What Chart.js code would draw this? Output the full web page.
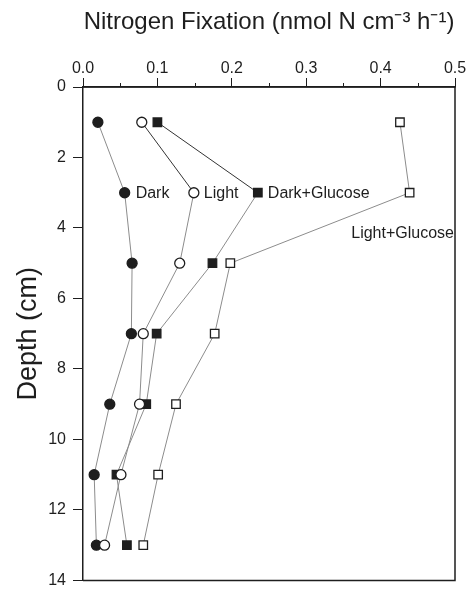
<!DOCTYPE html>
<html>
<head>
<meta charset="utf-8">
<script src="https://cdn.jsdelivr.net/npm/chart.js@4/dist/chart.umd.min.js"></script>
<style>
  body { margin: 0; background: #fff; }
</style>
</head>
<body>
<canvas id="chart_nitrogen_fixation" width="475" height="597"></canvas>
<script>
const depths = [1, 3, 5, 7, 9, 11, 13];
const dark = [0.020, 0.056, 0.066, 0.065, 0.036, 0.015, 0.018];
const light = [0.079, 0.149, 0.130, 0.081, 0.076, 0.051, 0.029];
const darkGlucose = [0.100, 0.235, 0.174, 0.099, 0.085, 0.045, 0.059];
const lightGlucose = [0.426, 0.439, 0.198, 0.177, 0.125, 0.101, 0.081];
const xTicks = [0, 0.1, 0.2, 0.3, 0.4, 0.5];
const yTicks = [0, 2, 4, 6, 8, 10, 12, 14];

const ink = '#1e1e1e';
const lineGray = '#8c8c8c';
const fontFamily = "'Liberation Sans', Arial, Helvetica, sans-serif";

const toPoints = values => values.map((v, i) => ({ x: v, y: depths[i] }));

// first segment of some profiles is drawn darker in the original
const darkFirst = ctx => ctx.p0DataIndex === 0 ? '#333' : lineGray;

const datasets = [
  { label: 'Light', data: toPoints(light), pointStyle: 'circle', pointRadius: 5,
    pointBackgroundColor: '#fff', segment: { borderColor: darkFirst } },
  { label: 'Dark', data: toPoints(dark), pointStyle: 'circle', pointRadius: 5,
    pointBackgroundColor: ink },
  { label: 'Dark+Glucose', data: toPoints(darkGlucose), pointStyle: 'rect', pointRadius: 6,
    pointBackgroundColor: ink, segment: { borderColor: darkFirst } },
  { label: 'Light+Glucose', data: toPoints(lightGlucose), pointStyle: 'rect', pointRadius: 6,
    pointBackgroundColor: '#fff' }
].map(d => Object.assign({
  showLine: true,
  borderColor: lineGray,
  borderWidth: 1,
  pointBorderColor: ink,
  pointBorderWidth: 1.3,
  pointHoverRadius: 5
}, d));

// frame, minor ticks and the in-plot series labels
const decorations = {
  id: 'decorations',
  afterDraw(chart) {
    const { ctx, chartArea: a, scales: { x, y } } = chart;
    ctx.save();
    ctx.strokeStyle = ink;
    ctx.lineWidth = 1.5;
    ctx.beginPath();
    ctx.moveTo(a.left, a.top); ctx.lineTo(a.right, a.top);
    ctx.lineTo(a.right, a.bottom); ctx.lineTo(a.left, a.bottom);
    ctx.stroke();

    ctx.lineWidth = 1;
    ctx.beginPath();
    for (let v = 0.05; v < 0.5; v += 0.1) {
      const px = Math.round(x.getPixelForValue(v)) + 0.5;
      ctx.moveTo(px, a.top); ctx.lineTo(px, a.top - 4);
    }
    ctx.stroke();

    ctx.fillStyle = ink;
    ctx.font = '16px ' + fontFamily;
    ctx.textBaseline = 'middle';
    ctx.textAlign = 'left';
    const at = (values, i) => [x.getPixelForValue(values[i]), y.getPixelForValue(depths[i])];
    let [px, py] = at(dark, 1);
    ctx.fillText('Dark', px + 11, py + 1);
    [px, py] = at(light, 1);
    ctx.fillText('Light', px + 10, py + 1);
    [px, py] = at(darkGlucose, 1);
    ctx.fillText('Dark+Glucose', px + 10, py + 1);
    ctx.textAlign = 'right';
    ctx.fillText('Light+Glucose', a.right - 1, y.getPixelForValue(4.15));
    ctx.restore();
  }
};

new Chart('chart_nitrogen_fixation', {
  type: 'scatter',
  plugins: [decorations],
  data: { datasets },
  options: {
    responsive: false,
    devicePixelRatio: 1,
    animation: false,
    layout: { padding: { top: 0, right: 20, bottom: 10, left: 0 } },
    plugins: { legend: { display: false }, tooltip: { enabled: false } },
    scales: {
      x: {
        type: 'linear',
        position: 'top',
        min: 0,
        max: 0.5,
        afterBuildTicks: s => { s.ticks = xTicks.map(value => ({ value })); },
        afterFit: s => { s.height = 87; },
        ticks: {
          color: ink,
          font: { size: 16, family: fontFamily },
          padding: 0,
          maxRotation: 0,
          callback: v => v.toFixed(1)
        },
        grid: { drawOnChartArea: false, tickLength: 9, color: ink, tickWidth: 1 },
        border: { display: true, color: ink, width: 1.5 },
        title: {
          display: true,
          text: 'Nitrogen Fixation (nmol N cm\u207B\u00B3 h\u207B\u00B9)',
          color: ink,
          font: { size: 24, family: fontFamily },
          padding: { top: 8, bottom: 0 }
        }
      },
      y: {
        type: 'linear',
        reverse: true,
        min: 0,
        max: 14,
        afterBuildTicks: s => { s.ticks = yTicks.map(value => ({ value })); },
        afterFit: s => { s.width = 83; },
        ticks: {
          color: ink,
          font: { size: 16, family: fontFamily },
          padding: 7
        },
        grid: { drawOnChartArea: false, tickLength: 10, color: ink, tickWidth: 1 },
        border: { display: true, color: ink, width: 1.5 },
        title: {
          display: true,
          text: 'Depth (cm)',
          color: ink,
          font: { size: 27, family: fontFamily },
          padding: { top: 12, bottom: 0 }
        }
      }
    }
  }
});
</script>
</body>
</html>
